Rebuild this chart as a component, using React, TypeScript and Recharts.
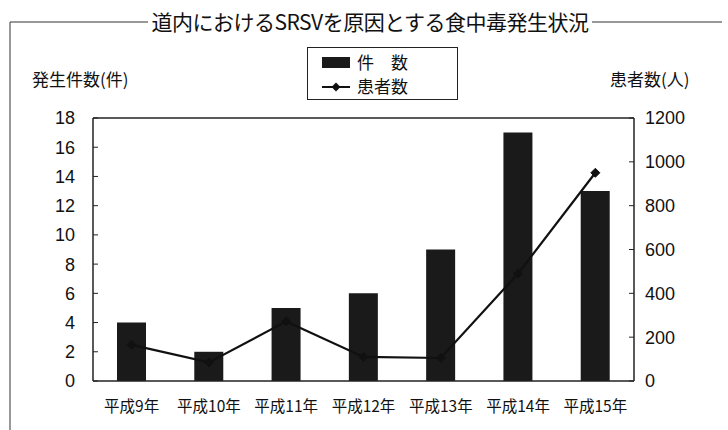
import React from 'react';
import { ComposedChart, Bar, Line, XAxis, YAxis, ReferenceLine } from 'recharts';

const categories = ['平成9年', '平成10年', '平成11年', '平成12年', '平成13年', '平成14年', '平成15年'];
const incidents = [4, 2, 5, 6, 9, 17, 13];
const patients = [165, 85, 272, 110, 105, 490, 950];
const leftTicks = [0, 2, 4, 6, 8, 10, 12, 14, 16, 18];
const rightTicks = [0, 200, 400, 600, 800, 1000, 1200];

const data = categories.map((c, i) => ({ name: c, count: incidents[i], patients: patients[i] }));

const JP = '"Noto Sans CJK JP", "Noto Sans", sans-serif';
const NUM = '"Liberation Sans Narrow", "Liberation Sans", Arial, sans-serif';

const Diamond = (props: any) => {
  const { cx, cy } = props;
  if (cx == null || cy == null) return null;
  const r = 4.5;
  return <path d={`M${cx},${cy - r} L${cx + r},${cy} L${cx},${cy + r} L${cx - r},${cy} Z`} fill="#111" stroke="#111" />;
};

const LegendBox = () => (
  <div
    style={{
      position: 'absolute',
      left: 307,
      top: 47,
      width: 151,
      height: 53,
      border: '1.5px solid #222',
      boxSizing: 'border-box',
      background: '#fff',
      fontFamily: JP,
      fontSize: 17,
      color: '#111',
    }}
  >
    <div style={{ position: 'absolute', left: 14, top: 9, width: 28, height: 11, background: '#1a1a1a' }} />
    <div style={{ position: 'absolute', left: 49, top: 2, lineHeight: '24px' }}>件　数</div>
    <svg style={{ position: 'absolute', left: 14, top: 33 }} width={28} height={12}>
      <line x1={0} y1={6} x2={28} y2={6} stroke="#111" strokeWidth={2} />
      <path d="M14,1.5 L18.5,6 L14,10.5 L9.5,6 Z" fill="#111" />
    </svg>
    <div style={{ position: 'absolute', left: 49, top: 26, lineHeight: '24px' }}>患者数</div>
  </div>
);

export default function App() {
  return (
    <div style={{ position: 'absolute', left: 0, top: 0, width: 728, height: 430, background: '#fff', overflow: 'hidden' }}>
      <svg style={{ position: 'absolute', left: 0, top: 0 }} width={728} height={430}>
        <line x1={10} y1={22} x2={148} y2={22} stroke="#333" strokeWidth={1.2} />
        <line x1={592} y1={22} x2={722} y2={22} stroke="#333" strokeWidth={1.2} />
        <line x1={10} y1={22} x2={10} y2={430} stroke="#555" strokeWidth={1.2} />
      </svg>
      <div
        style={{
          position: 'absolute',
          left: 148,
          width: 444,
          top: 6,
          textAlign: 'center',
          fontFamily: JP,
          fontSize: 21,
          letterSpacing: -0.5,
          color: '#111',
          whiteSpace: 'nowrap',
          lineHeight: '30px',
        }}
      >
        道内におけるSRSVを原因とする食中毒発生状況
      </div>
      <div style={{ position: 'absolute', left: 32, top: 66, fontFamily: JP, fontSize: 17, color: '#111', whiteSpace: 'nowrap' }}>
        発生件数(件)
      </div>
      <div style={{ position: 'absolute', left: 610, top: 66, fontFamily: JP, fontSize: 17, color: '#111', whiteSpace: 'nowrap' }}>
        患者数(人)
      </div>
      <LegendBox />
      <div style={{ position: 'absolute', left: 0, top: 0 }}>
        <ComposedChart
          width={728}
          height={430}
          data={data}
          margin={{ top: 118, right: 34, bottom: 9, left: 53 }}
        >
          <XAxis
            dataKey="name"
            tickLine={false}
            axisLine={{ stroke: '#222', strokeWidth: 1.5 }}
            height={40}
            tickMargin={14}
            tick={{ fontFamily: JP, fontSize: 15.5, fill: '#111' }}
            interval={0}
          />
          <YAxis
            yAxisId="left"
            orientation="left"
            domain={[0, 18]}
            ticks={leftTicks}
            width={40}
            tickSize={-5}
            tickMargin={23}
            axisLine={{ stroke: '#222', strokeWidth: 1.5 }}
            tickLine={{ stroke: '#222' }}
            tick={{ fontFamily: NUM, fontSize: 18, fill: '#111' }}
            interval={0}
          />
          <YAxis
            yAxisId="right"
            orientation="right"
            domain={[0, 1200]}
            ticks={rightTicks}
            width={60}
            tickSize={-5}
            tickMargin={16}
            axisLine={{ stroke: '#222', strokeWidth: 1.5 }}
            tickLine={{ stroke: '#222' }}
            tick={{ fontFamily: NUM, fontSize: 18, fill: '#111' }}
            interval={0}
          />
          <ReferenceLine yAxisId="left" y={18} stroke="#222" strokeWidth={1.5} />
          <Bar yAxisId="left" dataKey="count" name="件　数" fill="#1a1a1a" barSize={29} isAnimationActive={false} />
          <Line
            yAxisId="right"
            dataKey="patients"
            name="患者数"
            stroke="#111"
            strokeWidth={2.2}
            dot={<Diamond />}
            activeDot={false}
            isAnimationActive={false}
          />
        </ComposedChart>
      </div>
    </div>
  );
}
